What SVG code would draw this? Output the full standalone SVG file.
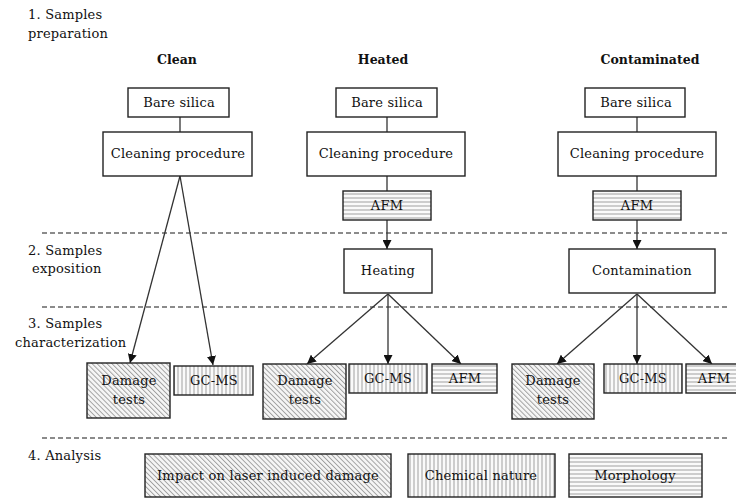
<svg xmlns="http://www.w3.org/2000/svg" width="736" height="498" viewBox="0 0 736 498">
<defs>
<style>
text{font-family:"DejaVu Serif","Liberation Serif",serif;font-size:13px;fill:#111;letter-spacing:0.2px}
.t{text-anchor:middle}
.h{font-weight:bold;text-anchor:middle;letter-spacing:0;font-size:12.5px}
.lbl{text-anchor:start}
.box{fill:#fff;stroke:#222;stroke-width:1.4}
.dg{fill:url(#diag);stroke:#222;stroke-width:1.4}
.vt{fill:url(#vert);stroke:#222;stroke-width:1.4}
.hz{fill:url(#horz);stroke:#222;stroke-width:1.4}
.ln{stroke:#333;stroke-width:1.3;fill:none}
.ar{stroke:#333;stroke-width:1.3;fill:none;marker-end:url(#arr)}
.dash{stroke:#666;stroke-width:1.5;stroke-dasharray:5 3;fill:none}
</style>
<pattern id="diag" width="3.5" height="3.5" patternUnits="userSpaceOnUse" patternTransform="rotate(-45)">
<rect width="3.5" height="3.5" fill="#f6f6f6"/>
<line x1="0.5" y1="0" x2="0.5" y2="3.5" stroke="#9a9a9a" stroke-width="0.9"/>
</pattern>
<pattern id="vert" width="4" height="4" patternUnits="userSpaceOnUse">
<rect width="4" height="4" fill="#fafafa"/>
<line x1="2" y1="0" x2="2" y2="4" stroke="#a0a0a0" stroke-width="1"/>
</pattern>
<pattern id="horz" width="4" height="4" patternUnits="userSpaceOnUse">
<rect width="4" height="4" fill="#fafafa"/>
<line x1="0" y1="2" x2="4" y2="2" stroke="#a0a0a0" stroke-width="1"/>
</pattern>
<marker id="arr" viewBox="0 0 10 10" refX="10" refY="5" markerWidth="9" markerHeight="9" markerUnits="userSpaceOnUse" orient="auto">
<path d="M0,0 L10,5 L0,10 z" fill="#111"/>
</marker>
</defs>
<rect width="736" height="498" fill="#fff"/>

<g id="stage-labels">
<text class="lbl" x="28" y="19">1. Samples</text>
<text class="lbl" x="28" y="38">preparation</text>
<text class="lbl" x="28" y="255">2. Samples</text>
<text class="lbl" x="32" y="273">exposition</text>
<text class="lbl" x="28" y="328">3. Samples</text>
<text class="lbl" x="15" y="347">characterization</text>
<text class="lbl" x="28" y="460">4. Analysis</text>
</g>

<g id="separators">
<line class="dash" x1="42" y1="233" x2="730" y2="233"/>
<line class="dash" x1="42" y1="307" x2="730" y2="307"/>
<line class="dash" x1="42" y1="438" x2="730" y2="438"/>
</g>

<g id="column-titles">
<text class="h" x="177" y="64">Clean</text>
<text class="h" x="383" y="64">Heated</text>
<text class="h" x="650" y="64">Contaminated</text>
</g>

<g id="connectors">
<line class="ln" x1="180" y1="117" x2="180" y2="132"/>
<line class="ar" x1="180" y1="176" x2="130" y2="363"/>
<line class="ar" x1="180" y1="176" x2="213" y2="365"/>

<line class="ln" x1="387" y1="117" x2="387" y2="132"/>
<line class="ln" x1="387" y1="176" x2="387" y2="191"/>
<line class="ar" x1="387" y1="220" x2="387" y2="249"/>
<line class="ar" x1="388" y1="294" x2="307" y2="364"/>
<line class="ar" x1="388" y1="294" x2="388" y2="364"/>
<line class="ar" x1="388" y1="294" x2="461" y2="364"/>

<line class="ln" x1="637" y1="117" x2="637" y2="132"/>
<line class="ln" x1="637" y1="176" x2="637" y2="191"/>
<line class="ar" x1="637" y1="220" x2="637" y2="249"/>
<line class="ar" x1="637" y1="294" x2="557" y2="364"/>
<line class="ar" x1="637" y1="294" x2="637" y2="364"/>
<line class="ar" x1="637" y1="294" x2="712" y2="364"/>
</g>

<g id="clean-bare">
<rect class="box" x="128" y="88" width="101" height="29"/>
<text class="t" x="179" y="107">Bare silica</text>
</g>
<g id="clean-cleaning">
<rect class="box" x="103" y="132" width="149" height="44"/>
<text class="t" x="178" y="158">Cleaning procedure</text>
</g>
<g id="clean-damage">
<rect class="dg" x="87" y="363" width="83" height="55"/>
<text class="t" x="129" y="385">Damage</text>
<text class="t" x="129" y="404">tests</text>
</g>
<g id="clean-gcms">
<rect class="vt" x="174" y="366" width="79" height="29"/>
<text class="t" x="214" y="385">GC-MS</text>
</g>

<g id="heated-bare">
<rect class="box" x="336" y="88" width="101" height="29"/>
<text class="t" x="387" y="107">Bare silica</text>
</g>
<g id="heated-cleaning">
<rect class="box" x="307" y="132" width="158" height="44"/>
<text class="t" x="386" y="158">Cleaning procedure</text>
</g>
<g id="heated-afm1">
<rect class="hz" x="343" y="191" width="88" height="29"/>
<text class="t" x="387" y="210">AFM</text>
</g>
<g id="heated-heating">
<rect class="box" x="344" y="249" width="88" height="44"/>
<text class="t" x="388" y="275">Heating</text>
</g>
<g id="heated-damage">
<rect class="dg" x="263" y="364" width="83" height="55"/>
<text class="t" x="305" y="385">Damage</text>
<text class="t" x="305" y="404">tests</text>
</g>
<g id="heated-gcms">
<rect class="vt" x="349" y="364" width="78" height="29"/>
<text class="t" x="388" y="383">GC-MS</text>
</g>
<g id="heated-afm2">
<rect class="hz" x="432" y="364" width="65" height="29"/>
<text class="t" x="465" y="383">AFM</text>
</g>

<g id="cont-bare">
<rect class="box" x="585" y="88" width="100" height="29"/>
<text class="t" x="636" y="107">Bare silica</text>
</g>
<g id="cont-cleaning">
<rect class="box" x="558" y="132" width="158" height="44"/>
<text class="t" x="637" y="158">Cleaning procedure</text>
</g>
<g id="cont-afm1">
<rect class="hz" x="593" y="191" width="88" height="29"/>
<text class="t" x="637" y="210">AFM</text>
</g>
<g id="cont-contamination">
<rect class="box" x="569" y="249" width="146" height="44"/>
<text class="t" x="642" y="275">Contamination</text>
</g>
<g id="cont-damage">
<rect class="dg" x="512" y="364" width="82" height="55"/>
<text class="t" x="553" y="385">Damage</text>
<text class="t" x="553" y="404">tests</text>
</g>
<g id="cont-gcms">
<rect class="vt" x="604" y="364" width="78" height="29"/>
<text class="t" x="643" y="383">GC-MS</text>
</g>
<g id="cont-afm2">
<rect class="hz" x="686" y="364" width="60" height="29"/>
<text class="t" x="714" y="383">AFM</text>
</g>

<g id="analysis-impact">
<rect class="dg" x="145" y="454" width="246" height="43"/>
<text class="t" x="268" y="480">Impact on laser induced damage</text>
</g>
<g id="analysis-chemical">
<rect class="vt" x="408" y="454" width="147" height="43"/>
<text class="t" x="481" y="480">Chemical nature</text>
</g>
<g id="analysis-morphology">
<rect class="hz" x="569" y="454" width="133" height="43"/>
<text class="t" x="635" y="480">Morphology</text>
</g>
</svg>
